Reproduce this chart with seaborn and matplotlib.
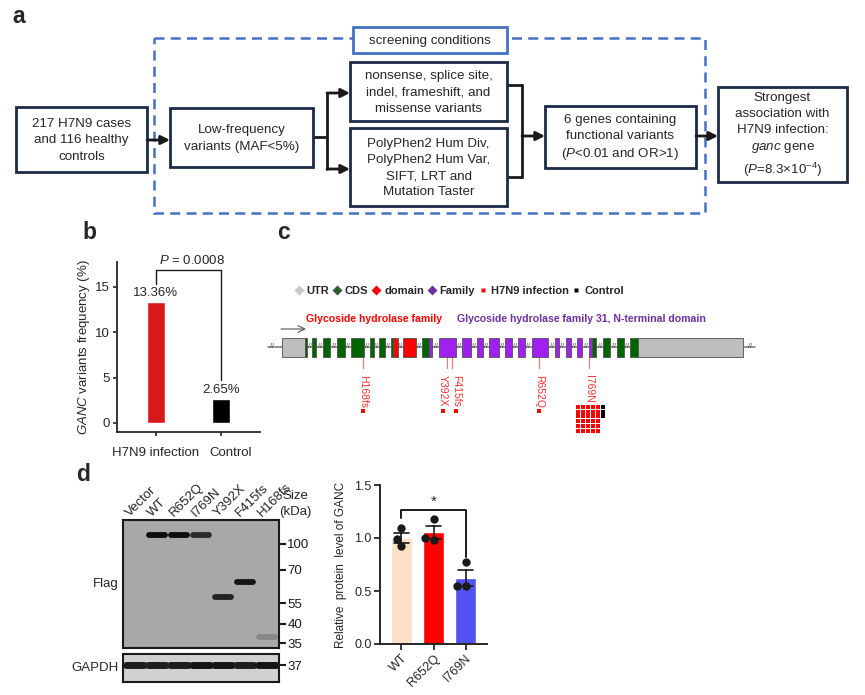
import numpy as np
import pandas as pd
import seaborn as sns
import matplotlib.pyplot as plt
import matplotlib.transforms as mtransforms
from matplotlib.patches import Rectangle
from matplotlib.lines import Line2D

# panel b: GANC variant frequency
groups = ['H7N9 infection', 'Control']
freq = [13.36, 2.65]
freq_labels = ['13.36%', '2.65%']
bar_colors_b = ['#D7191C', '#000000']

# panel c: gene model (drawing units) and variant carriers
exon_start = [282, 305, 312, 323, 337, 351, 370, 379, 391, 393, 403, 422, 429, 439, 462, 477,
              489, 505, 518, 532, 555, 566, 577, 589, 592, 603, 617, 630, 638]
exon_end = [305, 307, 316, 330, 345, 364, 374, 385, 393, 398, 416, 429, 432, 456, 471, 483,
            499, 512, 525, 548, 559, 571, 582, 592, 596, 610, 624, 638, 743]
exon_kind = ['UTR', 'CDS', 'CDS', 'CDS', 'CDS', 'CDS', 'CDS', 'CDS', 'CDS', 'domain', 'domain',
             'CDS', 'Family', 'Family', 'Family', 'Family', 'Family', 'Family', 'Family', 'Family',
             'Family', 'Family', 'Family', 'Family', 'CDS', 'CDS', 'CDS', 'CDS', 'UTR']
kind_colors = {'UTR': '#BEBEBE', 'CDS': '#006400', 'domain': '#FF0000', 'Family': '#A020F0'}
mut_names = ['H168fs', 'Y392X', 'F415fs', 'R652Q', 'I769N']
mut_pos = [363, 447, 452, 539, 589]
mut_cases = [1, 1, 1, 1, 30]
mut_controls = [0, 0, 0, 0, 3]

# panel d: western blot
lanes = ['Vector', 'WT', 'R652Q', 'I769N', 'Y392X', 'F415fs', 'H168fs']
band_lane = [1, 2, 3, 4, 5, 6]
band_pos = [15, 15, 15, 77, 62, 117]
band_strength = [1.0, 1.0, 0.8, 0.85, 0.95, 0.2]
marker_kda = ['100', '70', '55', '40', '35']
marker_pos = [24, 50, 83, 104, 123]
gapdh_strength = [0.95, 0.95, 0.95, 1.0, 1.0, 0.95, 1.0]

# panel d: quantification
variants = ['WT', 'R652Q', 'I769N']
rep1 = [1.09, 1.18, 0.77]
rep2 = [0.99, 1.00, 0.55]
rep3 = [0.92, 0.98, 0.55]
bar_colors_d = ['#FDE0C5', '#FF0000', '#5252F2']

sns.set_theme(style='ticks')
plt.rcParams['font.family'] = ['Liberation Sans', 'DejaVu Sans']
plt.rcParams['mathtext.fontset'] = 'custom'
plt.rcParams['mathtext.rm'] = 'Liberation Sans'
plt.rcParams['mathtext.it'] = 'Liberation Sans:italic'

W, H = 865, 695
fig = plt.figure(figsize=(8.65, 6.95), dpi=100)
fig.patch.set_facecolor('white')


def px_axes(l, t, r, b):
    return fig.add_axes([l / W, 1 - b / H, (r - l) / W, (b - t) / H])


ov = fig.add_axes([0, 0, 1, 1])
ov.set_xlim(0, W)
ov.set_ylim(H, 0)
ov.axis('off')

# ---------- panel a ----------
navy = '#1C2A48'
blue = '#4472C4'
ov.add_patch(Rectangle((154, 38), 551, 175, fill=False, ec=blue, lw=1.8, ls=(0, (4, 2.5))))


def box(x0, y0, x1, y1, text, ec=navy, fc='white'):
    ov.add_patch(Rectangle((x0, y0), x1 - x0, y1 - y0, fc=fc, ec=ec, lw=2.0, zorder=3))
    ov.text((x0 + x1) / 2, (y0 + y1) / 2 + 1, text, ha='center', va='center', fontsize=9.6,
            linespacing=1.45, zorder=4)


box(353, 27, 507, 53, 'screening conditions', ec=blue)
box(16, 107, 147, 172, '217 H7N9 cases\nand 116 healthy\ncontrols')
box(170, 108, 313, 167, 'Low-frequency\nvariants (MAF<5%)')
box(350, 62, 507, 121, 'nonsense, splice site,\nindel, frameshift, and\nmissense variants')
box(350, 128, 507, 206, 'PolyPhen2 Hum Div,\nPolyPhen2 Hum Var,\nSIFT, LRT and\nMutation Taster')
box(545, 106, 696, 168, '6 genes containing\nfunctional variants\n($\\it{P}$<0.01 and OR>1)')
box(718, 87, 847, 182, 'Strongest\nassociation with\nH7N9 infection:\n$\\it{ganc}$ gene\n'
    '($\\it{P}$=8.3×10$^{-4}$)')


def arrow(x0, x1, y):
    ov.annotate('', xy=(x1, y), xytext=(x0, y),
                arrowprops=dict(arrowstyle='-|>', color='k', lw=2.0, mutation_scale=13,
                                shrinkA=0, shrinkB=0), zorder=5)


arrow(147, 170, 140)
ov.plot([313, 327], [137, 137], color='k', lw=2.0)
ov.plot([327, 327], [93, 169], color='k', lw=2.0)
arrow(327, 350, 93)
arrow(327, 350, 169)
ov.plot([507, 522], [85, 85], color='k', lw=2.0)
ov.plot([507, 522], [177, 177], color='k', lw=2.0)
ov.plot([522, 522], [85, 177], color='k', lw=2.0)
arrow(522, 545, 136)
arrow(696, 718, 136)

# panel letters
for lab, x, y in [('a', 12, 23), ('b', 82, 239), ('c', 277, 239), ('d', 76, 481)]:
    ov.text(x, y, lab, fontsize=16.5, fontweight='bold', ha='left', va='baseline')

# ---------- panel b ----------
axb = px_axes(117, 262, 260, 432)
sns.barplot(x=groups, y=freq, hue=groups, palette=bar_colors_b, width=0.29, legend=False,
            ax=axb, saturation=1)
axb.set_xlim(-0.6, 1.6)
axb.set_ylim(-1.0, 17.75)
axb.set_yticks([0, 5, 10, 15])
sns.despine(ax=axb)
for s in ['left', 'bottom']:
    axb.spines[s].set_linewidth(1.3)
axb.tick_params(axis='both', length=3, width=1.2, labelsize=9.5, pad=2)
axb.tick_params(axis='x', pad=8)
ctrl_lab = axb.get_xticklabels()[1]
ctrl_lab.set_transform(ctrl_lab.get_transform() +
                       mtransforms.ScaledTranslation(10 / 100, 0, fig.dpi_scale_trans))
axb.set_ylabel('$\\it{GANC}$ variants frequency (%)', fontsize=9.5, labelpad=2)
for i, (v, t) in enumerate(zip(freq, freq_labels)):
    axb.text(i, v + 0.35, t, ha='center', va='bottom', fontsize=9.5)
axb.plot([0, 0, 1, 1], [15.3, 16.9, 16.9, 4.7], color='k', lw=1.0)
axb.text(0.55, 17.25, '$\\it{P}$ = 0.0008', ha='center', va='bottom', fontsize=9.5)

# ---------- panel c ----------
legend_handles = [
    Line2D([], [], ls='none', marker='D', mfc='#C8C8C8', mec='none', ms=5.5),
    Line2D([], [], ls='none', marker='D', mfc='#2E5E2E', mec='none', ms=5.5),
    Line2D([], [], ls='none', marker='D', mfc='#FF0000', mec='none', ms=5.5),
    Line2D([], [], ls='none', marker='D', mfc='#7030A0', mec='none', ms=5.5),
    Line2D([], [], ls='none', marker='s', mfc='#FF0000', mec='none', ms=3),
    Line2D([], [], ls='none', marker='s', mfc='#000000', mec='none', ms=3),
]
ov.legend(legend_handles, ['UTR', 'CDS', 'domain', 'Family', 'H7N9 infection', 'Control'],
          loc='center left', bbox_to_anchor=(295, 291), bbox_transform=ov.transData,
          ncol=6, frameon=False, handlelength=0.7, handletextpad=0.35, columnspacing=0.35,
          borderpad=0, borderaxespad=0, prop={'weight': 'bold', 'size': 8})
ov.text(306, 319, 'Glycoside hydrolase family', color='#FF0000', fontsize=7.6,
        fontweight='bold', va='center')
ov.text(457, 319, 'Glycoside hydrolase family 31, N-terminal domain', color='#7030A0',
        fontsize=7.6, fontweight='bold', va='center')
ov.annotate('', xy=(306, 329), xytext=(281, 329),
            arrowprops=dict(arrowstyle='->', color='#555555', lw=0.8, shrinkA=0, shrinkB=0))

gy = 347
ov.plot([268, 755], [gy, gy], color='#808080', lw=1.2, zorder=2)
for s, e, k in zip(exon_start, exon_end, exon_kind):
    ov.add_patch(Rectangle((s, gy - 9.5), e - s, 19, fc=kind_colors[k], ec='#505050',
                           lw=0.6, zorder=3))
gaps = [272] + [(exon_end[i] + exon_start[i + 1]) / 2 for i in range(len(exon_start) - 1)
                if exon_start[i + 1] - exon_end[i] > 2] + [750]
for g in gaps:
    ov.text(g, gy, '//', fontsize=5, color='#404040', ha='center', va='center', zorder=4)

label_dx = {'Y392X': -4, 'F415fs': 4}
for name, pos, nc, nk in zip(mut_names, mut_pos, mut_cases, mut_controls):
    ov.plot([pos, pos], [gy + 9.5, gy + 21], color='#FF7070', lw=0.8)
    lx = pos + label_dx.get(name, 0)
    ov.text(lx, 375, name, rotation=-90, ha='center', va='top', fontsize=7.5, color='#FF3030')
    if nc + nk == 1:
        ov.scatter([lx], [411], marker='s', s=6, color='#FF0000', lw=0)
    else:
        ncol = 5
        xs = [lx - 11 + 5 * (i % ncol) for i in range(nc)]
        ys = [407 + 4.7 * (i // ncol) for i in range(nc)]
        ov.scatter(xs, ys, marker='s', s=6, color='#FF0000', lw=0)
        ov.scatter([lx - 11 + 5 * ncol] * nk, [407 + 4.7 * i for i in range(nk)],
                   marker='s', s=6, color='#000000', lw=0)

# ---------- panel d: blot ----------
bg = 0.66
axw = px_axes(123, 520, 279, 648)
axw.set_facecolor((bg, bg, bg))
axw.set_xlim(-0.55, 6.55)
axw.set_ylim(128, 0)
for lane, pos, st in zip(band_lane, band_pos, band_strength):
    c = bg * (1 - st) + 0.05 * st
    axw.plot([lane - 0.36, lane + 0.36], [pos, pos], color=(c, c, c), lw=4.2,
             solid_capstyle='round')
axw.yaxis.tick_right()
axw.set_yticks(marker_pos, marker_kda)
axw.set_xticks([])
axw.tick_params(axis='y', length=5, width=1.5, labelsize=9.5, pad=1, colors='k')
for s in axw.spines.values():
    s.set_linewidth(1.5)
    s.set_color('k')
for i, lane in enumerate(lanes):
    axw.text(i - 0.25, -3, lane, rotation=45, ha='left', va='baseline',
             rotation_mode='anchor', fontsize=9.5, clip_on=False)
axw.text(7.3, -16, 'Size\n(kDa)', ha='center', va='center', fontsize=9.5, linespacing=1.45)
axw.text(-0.75, 64, 'Flag', ha='right', va='center', fontsize=9.5)

bg2 = 0.82
axg = px_axes(123, 654, 279, 682)
axg.set_facecolor((bg2, bg2, bg2))
axg.set_xlim(-0.55, 6.55)
axg.set_ylim(28, 0)
for i, st in enumerate(gapdh_strength):
    c = bg2 * (1 - st) + 0.08 * st
    axg.plot([i - 0.42, i + 0.42], [11, 11], color=(c, c, c), lw=5, solid_capstyle='round')
axg.yaxis.tick_right()
axg.set_yticks([11], ['37'])
axg.set_xticks([])
axg.tick_params(axis='y', length=5, width=1.5, labelsize=9.5, pad=1, colors='k')
for s in axg.spines.values():
    s.set_linewidth(1.5)
    s.set_color('k')
axg.text(-0.75, 14, 'GAPDH', ha='right', va='center', fontsize=9.5)

# ---------- panel d: quantification ----------
df_d = pd.DataFrame({'variant': variants * 3, 'level': rep1 + rep2 + rep3})
axq = px_axes(380, 485, 487, 644)
sns.barplot(data=df_d, x='variant', y='level', hue='variant', order=variants,
            palette=bar_colors_d, errorbar='se', capsize=0.45, width=0.66, legend=False,
            err_kws={'color': 'k', 'linewidth': 1.2}, saturation=1, ax=axq)
sns.swarmplot(data=df_d, x='variant', y='level', order=variants, color='k', size=6, ax=axq)
axq.set_xlim(-0.67, 2.67)
axq.set_ylim(0, 1.5)
axq.set_yticks([0, 0.5, 1.0, 1.5], ['0.0', '0.5', '1.0', '1.5'])
sns.despine(ax=axq)
for s in ['left', 'bottom']:
    axq.spines[s].set_linewidth(1.4)
axq.tick_params(axis='both', length=4, width=1.3, labelsize=9, pad=2)
plt.setp(axq.get_xticklabels(), rotation=45, ha='right', rotation_mode='anchor')
axq.set_xlabel('')
axq.set_ylabel('Relative  protein  level of GANC', fontsize=8.5, labelpad=5)
axq.plot([0, 0, 2, 2], [1.19, 1.265, 1.265, 0.82], color='k', lw=1.4)
axq.text(1, 1.28, '*', ha='center', va='bottom', fontsize=11)

fig.savefig('out.png', dpi=100)
